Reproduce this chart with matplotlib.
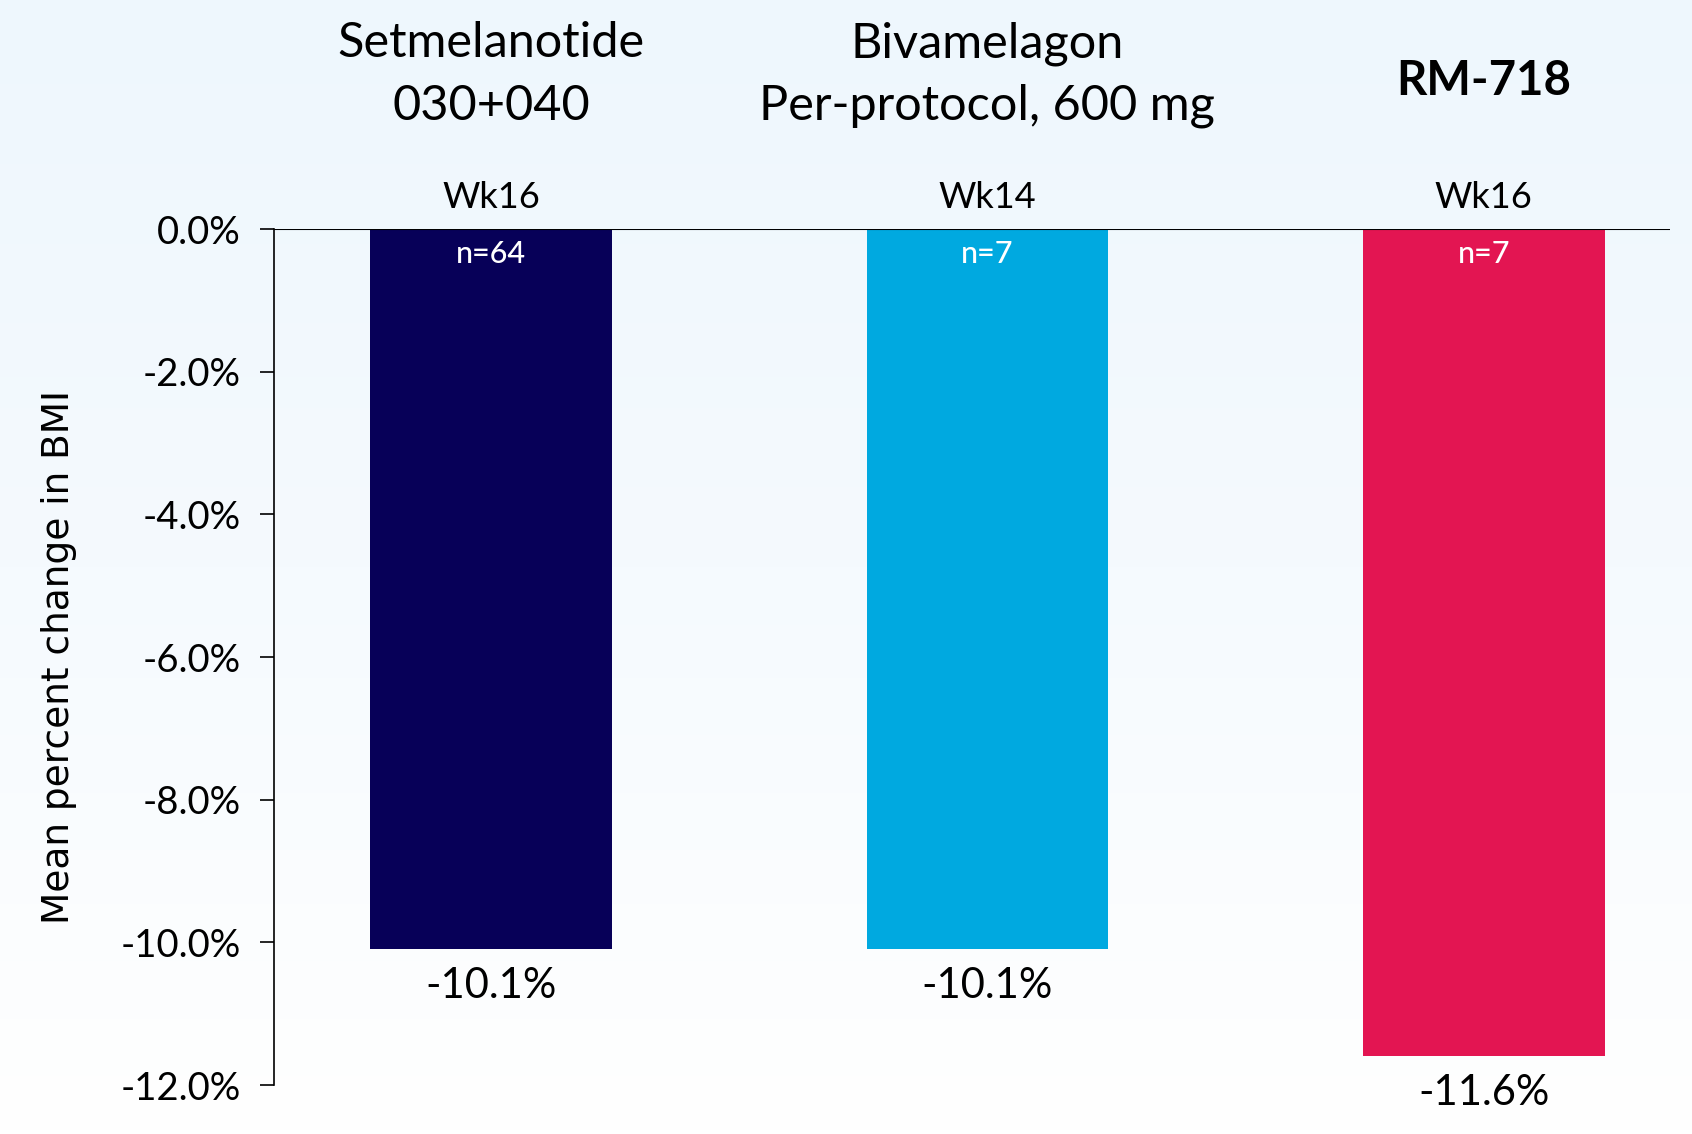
import matplotlib
matplotlib.use("Agg")
import matplotlib.pyplot as plt
import matplotlib.transforms as mtransforms
from matplotlib.font_manager import FontProperties
import numpy as np
from matplotlib.colors import LinearSegmentedColormap

# ---- data ----
group_line1 = ["Setmelanotide", "Bivamelagon", ""]
group_line2 = ["030+040", "Per-protocol, 600 mg", ""]
group_bold = ["", "", "RM-718"]
weeks = ["Wk16", "Wk14", "Wk16"]
n_labels = ["n=64", "n=7", "n=7"]
values = [-10.1, -10.1, -11.6]
colors = ["#070058", "#00A9E0", "#E31552"]
yticks = [0, -2, -4, -6, -8, -10, -12]

FONT = "Lato"
plt.rcParams["font.family"] = [FONT, "DejaVu Sans"]

W, H = 1692, 1134
fig = plt.figure(figsize=(W / 100, H / 100), dpi=100)

# background gradient (light blue top -> white bottom)
bg = fig.add_axes([0, 0, 1, 1], zorder=-10)
grad = np.linspace(0, 1, 256).reshape(-1, 1)
cmap = LinearSegmentedColormap.from_list("bg", ["#EEF7FD", "#F5FAFE", "#FFFFFF"])
bg.imshow(grad, aspect="auto", cmap=cmap, extent=[0, 1, 0, 1], origin="upper")
bg.axis("off")

left, right = 274 / W, 1670 / W
top, bottom = 1 - 229 / H, 1 - 1085 / H
ax = fig.add_axes([left, bottom, right - left, top - bottom])
ax.patch.set_alpha(0)

x = np.arange(len(values))
ax.bar(x, values, width=0.487, color=colors, zorder=2)

ax.set_xlim(-0.437, 2.375)
ax.set_ylim(-12, 0)
ax.set_yticks(yticks)
ax.set_yticklabels([f"{v:.1f}%" for v in yticks], fontsize=27.5)
ax.tick_params(axis="y", length=10, width=1.2, pad=14)
ax.set_xticks([])

for s in ["top", "right", "bottom"]:
    ax.spines[s].set_visible(False)
ax.spines["left"].set_linewidth(1.2)
ax.axhline(0, color="black", lw=1.5, zorder=3)

ylab_fp = FontProperties(family="DejaVu Sans", size=27)
ax.set_ylabel("Mean percent change in BMI", fontproperties=ylab_fp, labelpad=31)

for xi, v, wk, nl in zip(x, values, weeks, n_labels):
    ax.text(xi, 0.29, wk, ha="center", va="baseline", fontsize=26)
    ax.text(xi, -0.15, nl, ha="center", va="top", fontsize=22, color="white",
            fontweight="medium", zorder=4)
    ax.text(xi, v - 0.24, f"{v:.1f}%", ha="center", va="top", fontsize=30)

def fy(py):
    return 1 - py / H

blend = mtransforms.blended_transform_factory(ax.transData, fig.transFigure)
for xi, l1, l2, lb in zip(x, group_line1, group_line2, group_bold):
    if l1:
        ax.text(xi, fy(57), l1, ha="center", va="baseline", fontsize=35, transform=blend)
    if l2:
        ax.text(xi, fy(120), l2, ha="center", va="baseline", fontsize=35, transform=blend)
    if lb:
        ax.text(xi, fy(95), lb, ha="center", va="baseline", fontsize=34,
                fontweight="bold", transform=blend)

fig.savefig("out.png", dpi=100)
